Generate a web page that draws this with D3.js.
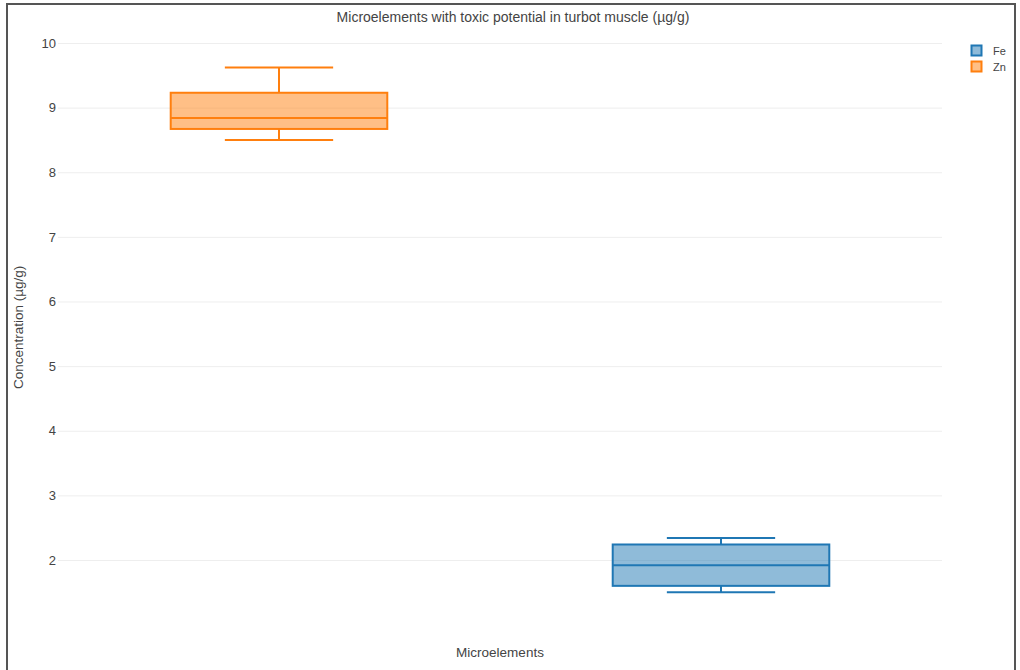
<!DOCTYPE html>
<html>
<head>
<meta charset="utf-8">
<script src="https://cdn.jsdelivr.net/npm/d3@7"></script>
<style>
  html, body { margin: 0; padding: 0; background: #fff; }
  svg { display: block; font-family: "Liberation Sans", Arial, sans-serif; }
</style>
</head>
<body>
<svg id="chart" width="1020" height="670"></svg>
<script>
// Box-plot summaries (µg/g), in plotting order left to right
const categories = ["Zn", "Fe"];
const lowerWhisker = [8.50, 1.50];
const q1 = [8.67, 1.60];
const median = [8.84, 1.92];
const q3 = [9.23, 2.24];
const upperWhisker = [9.62, 2.34];
const legendOrder = ["Fe", "Zn"];
const yTicks = [2, 3, 4, 5, 6, 7, 8, 9, 10];

const colors = { Fe: "#1f77b4", Zn: "#ff7f0e" };

const W = 1020, H = 670;
const margin = { left: 58, right: 78, top: 33, bottom: 48 };
const svg = d3.select("#chart");

// figure frame
svg.append("rect")
  .attr("x", 7).attr("y", 4)
  .attr("width", 1008).attr("height", 680)
  .attr("fill", "none").attr("stroke", "#555").attr("stroke-width", 2);

const x = d3.scaleBand()
  .domain(categories)
  .range([margin.left, W - margin.right]);

const y = d3.scaleLinear()
  .domain([1.05, 10.15])
  .range([H - margin.bottom - 0.6, margin.top + 0.3]);

// horizontal grid + tick labels
const yAxis = d3.axisLeft(y)
  .tickValues(yTicks)
  .tickSize(-(W - margin.left - margin.right))
  .tickPadding(2)
  .tickFormat(d3.format("d"));

const gy = svg.append("g")
  .attr("transform", `translate(${margin.left},0)`)
  .call(yAxis);
gy.select(".domain").remove();
gy.selectAll(".tick line").attr("stroke", "#eee").attr("stroke-width", 1);
gy.selectAll(".tick text")
  .attr("fill", "#444")
  .attr("font-size", 13)
  .attr("font-family", "\"Liberation Sans\", Arial, sans-serif");

// boxes
const boxFrac = 0.49;
const rows = categories.map((c, i) => ({
  name: c, lo: lowerWhisker[i], q1: q1[i], med: median[i], q3: q3[i], hi: upperWhisker[i]
}));

const g = svg.append("g");
rows.forEach(d => {
  const cx = x(d.name) + x.bandwidth() / 2;
  const bw = x.bandwidth() * boxFrac;
  const ww = bw / 2;
  const col = colors[d.name];
  const gg = g.append("g")
    .attr("stroke", col).attr("stroke-width", 2).attr("fill", "none");
  // whisker stems
  gg.append("line").attr("x1", cx).attr("x2", cx).attr("y1", y(d.hi)).attr("y2", y(d.q3));
  gg.append("line").attr("x1", cx).attr("x2", cx).attr("y1", y(d.q1)).attr("y2", y(d.lo));
  // whisker caps
  gg.append("line").attr("x1", cx - ww / 2).attr("x2", cx + ww / 2).attr("y1", y(d.hi)).attr("y2", y(d.hi));
  gg.append("line").attr("x1", cx - ww / 2).attr("x2", cx + ww / 2).attr("y1", y(d.lo)).attr("y2", y(d.lo));
  // box
  gg.append("rect")
    .attr("x", cx - bw / 2).attr("width", bw)
    .attr("y", y(d.q3)).attr("height", y(d.q1) - y(d.q3))
    .attr("fill", col).attr("fill-opacity", 0.5);
  // median
  gg.append("line").attr("x1", cx - bw / 2).attr("x2", cx + bw / 2).attr("y1", y(d.med)).attr("y2", y(d.med));
});

// title
svg.append("text")
  .attr("x", 513).attr("y", 22)
  .attr("text-anchor", "middle")
  .attr("fill", "#444").attr("font-size", 14)
  .text("Microelements with toxic potential in turbot muscle (µg/g)");

// axis titles
const plotMidX = (margin.left + W - margin.right) / 2;
svg.append("text")
  .attr("x", plotMidX).attr("y", 657)
  .attr("text-anchor", "middle")
  .attr("fill", "#444").attr("font-size", 13.5)
  .text("Microelements");

svg.append("text")
  .attr("transform", `translate(23,${(y.range()[0] + y.range()[1]) / 2}) rotate(-90)`)
  .attr("text-anchor", "middle")
  .attr("fill", "#444").attr("font-size", 13.5)
  .text("Concentration (µg/g)");

// legend
const lg = svg.append("g").attr("transform", "translate(971,45)");
legendOrder.forEach((name, i) => {
  const row = lg.append("g").attr("transform", `translate(0,${i * 16})`);
  row.append("rect")
    .attr("x", 0.5).attr("y", 0.5).attr("width", 10).attr("height", 10)
    .attr("fill", colors[name]).attr("fill-opacity", 0.5)
    .attr("stroke", colors[name]).attr("stroke-width", 2);
  row.append("text")
    .attr("x", 22).attr("y", 9.5)
    .attr("fill", "#444").attr("font-size", 11)
    .text(name);
});
</script>
</body>
</html>
